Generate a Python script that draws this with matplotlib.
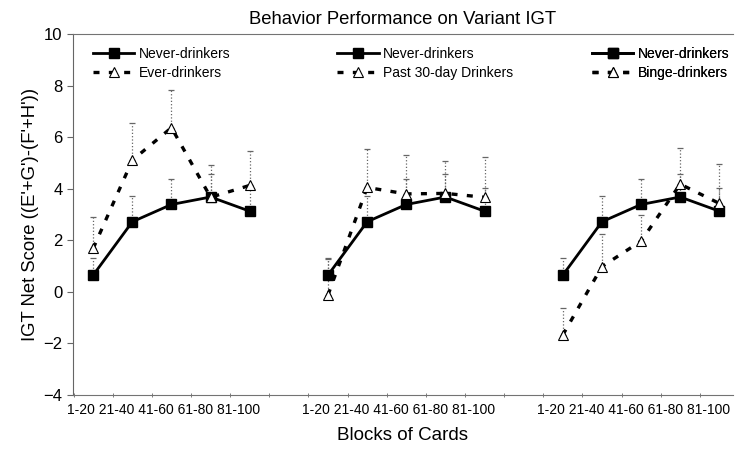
import numpy as np
import matplotlib
matplotlib.use("Agg")
import matplotlib.pyplot as plt

plt.rcParams['font.family'] = ['Liberation Sans', 'DejaVu Sans']

blocks = ["1-20", "21-40", "41-60", "61-80", "81-100"]

never = [0.65, 2.72, 3.39, 3.68, 3.13]
never_err = [0.66, 1.0, 0.97, 0.9, 0.9]

ever = [1.69, 5.11, 6.37, 3.67, 4.13]
ever_err = [1.23, 1.45, 1.48, 1.25, 1.33]

past30 = [-0.12, 4.05, 3.80, 3.82, 3.67]
past30_err = [1.4, 1.48, 1.51, 1.25, 1.57]

binge = [-1.67, 0.98, 1.97, 4.18, 3.43]
binge_err = [1.06, 1.26, 1.01, 1.41, 1.55]

groups = [("Ever-drinkers", ever, ever_err),
          ("Past 30-day Drinkers", past30, past30_err),
          ("Binge-drinkers", binge, binge_err)]
legend_x = [0.03, 0.40, 0.786]

fig = plt.figure(figsize=(7.36, 4.55), dpi=100)
ax = fig.add_axes([0.099, 0.132, 0.897, 0.793])

dash = (0, (1.8, 2.8))
for g, (name, vals, errs) in enumerate(groups):
    x = np.arange(5) + 6 * g
    # error bars (upper only), dotted gray
    for v, e in [(never, never_err), (vals, errs)]:
        eb = ax.errorbar(x, v, yerr=[np.zeros(5), e], fmt='none', ecolor='0.4',
                         elinewidth=0.9, capsize=2, capthick=0.9, zorder=1)
        eb[2][0].set_linestyle(':')
    l2, = ax.plot(x, vals, color='black', lw=2.4, linestyle=dash, marker='^',
                  ms=7.5, mfc='white', mec='black', mew=0.8, zorder=3,
                  label=name)
    l1, = ax.plot(x, never, color='black', lw=2, marker='s', ms=7,
                  zorder=2, label="Never-drinkers")
    leg = ax.legend(handles=[l1, l2], loc='upper left',
                    bbox_to_anchor=(legend_x[g], 0.965), frameon=False,
                    fontsize=10, handlelength=3, handletextpad=0.3,
                    labelspacing=0.35, borderpad=0, borderaxespad=0)
    ax.add_artist(leg)

ax.set_xlim(-0.52, 16.35)
ax.set_ylim(-4, 10)
ax.set_yticks(np.arange(-4, 11, 2))
ax.tick_params(axis='y', labelsize=12, length=4, color='0.4')

ax.set_xticks([6 * g + 1.8 for g in range(3)])
ax.set_xticklabels([" ".join(blocks)] * 3, fontsize=10)
ax.set_xticks(np.arange(-0.5, 16.5, 1), minor=True)
ax.tick_params(axis='x', which='major', length=0, pad=6)
ax.tick_params(axis='x', which='minor', length=3, direction='inout', color='0.4')

ax.spines['right'].set_visible(False)
ax.spines['left'].set_color('0.4')
for s in ['top', 'bottom']:
    ax.spines[s].set_linestyle((0, (1, 1)))
    ax.spines[s].set_color('0.45')

ax.set_title("Behavior Performance on Variant IGT", fontsize=13.3, pad=7)
ax.set_ylabel("IGT Net Score ((E'+G')-(F'+H'))", fontsize=13.3, labelpad=3)
ax.set_xlabel("Blocks of Cards", fontsize=13.5, labelpad=7)

fig.savefig("out.png", dpi=100)
